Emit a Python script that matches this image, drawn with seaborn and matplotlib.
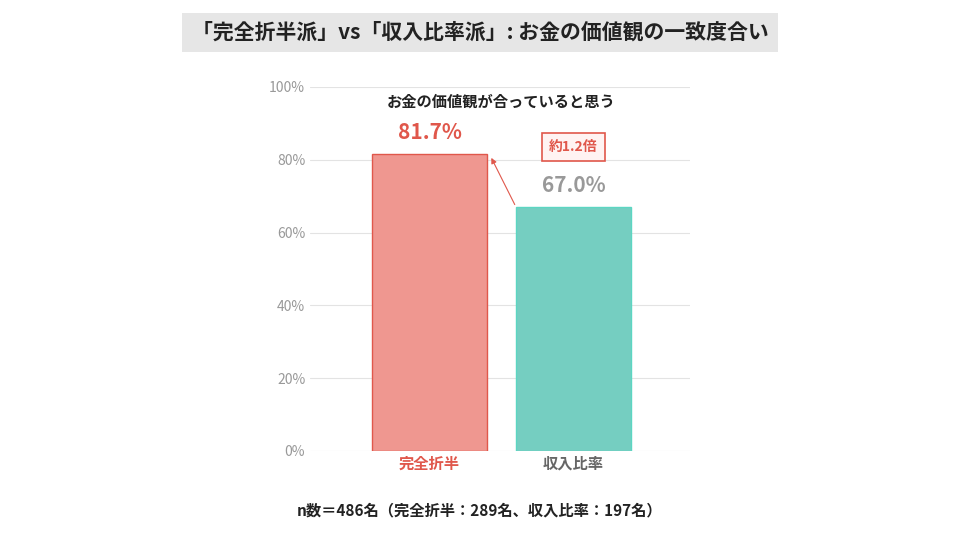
import matplotlib
matplotlib.use("Agg")
import matplotlib.pyplot as plt
import seaborn as sns
import pandas as pd

categories = ["完全折半", "収入比率"]
values = [81.7, 67.0]
yticks = [0, 20, 40, 60, 80, 100]

sns.set_style("white")
plt.rcParams['font.family'] = ['Noto Sans CJK JP', 'DejaVu Sans']

fig = plt.figure(figsize=(9.6, 5.4), dpi=100)
ax = fig.add_axes([0.323, 0.165, 0.396, 0.674])
df = pd.DataFrame({"cat": categories, "val": values})
sns.barplot(data=df, x="cat", y="val", hue="cat", palette=["#FF8A80", "#66DDCB"],
            width=0.8, ax=ax, legend=False, zorder=3)
for p, ec in zip(ax.patches, ["#E0574B", "#5CD6C2"]):
    p.set_edgecolor(ec); p.set_linewidth(1)
ax.set_ylim(0, 100)
ax.set_xlim(-0.83, 1.81)
ax.set_yticks(yticks)
ax.set_yticklabels([f"{t}%" for t in yticks], color="#999999", fontsize=10)
ax.grid(axis="y", color="#e3e3e3", lw=0.8, zorder=0)
for s in ax.spines.values(): s.set_visible(False)
ax.tick_params(length=0)
ax.set_xlabel(""); ax.set_ylabel("")
ax.set_xticks([0, 1])
ax.set_xticklabels(categories, fontsize=11, fontweight="bold")
ax.get_xticklabels()[0].set_color("#E0574B")
ax.get_xticklabels()[1].set_color("#666666")

ax.text(0, values[0] + 3, f"{values[0]}%", ha="center", va="bottom", fontsize=15,
        fontweight="bold", color="#E0574B")
ax.text(1, values[1] + 3, f"{values[1]}%", ha="center", va="bottom", fontsize=15,
        fontweight="bold", color="#999999")
ax.text(0.5, 96, "お金の価値観が合っていると思う", ha="center", va="center", fontsize=11,
        fontweight="bold", color="#222222")
ax.text(1.0, 83.6, "約1.2倍", ha="center", va="center", fontsize=10, fontweight="bold",
        color="#E0574B",
        bbox=dict(boxstyle="square,pad=0.5", fc="#FFF3F2", ec="#E0574B", lw=1.2))
ax.annotate("", xy=(0.42, values[0] - 0.5), xytext=(0.6, values[1]),
            arrowprops=dict(arrowstyle="-|>", color="#E0574B", lw=0.8, mutation_scale=8))

fig.text(0.5, 0.94, "「完全折半派」vs「収入比率派」: お金の価値観の一致度合い", ha="center",
         va="center", fontsize=15, fontweight="bold", color="#222222",
         bbox=dict(boxstyle="square,pad=0.45", fc="#E6E6E6", ec="none"))
fig.text(0.5, 0.055, "n数＝486名（完全折半：289名、収入比率：197名）", ha="center",
         va="center", fontsize=11, fontweight="bold", color="#222222")
fig.savefig("out.png", dpi=100, facecolor="white")
